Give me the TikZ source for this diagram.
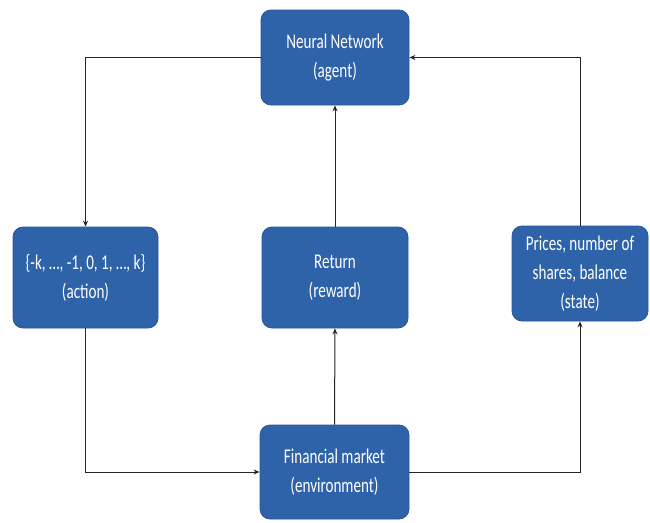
\documentclass[tikz,border=0pt]{standalone}
\usepackage{fontspec}
\usepackage{graphicx}
\setmainfont{Carlito}
\usetikzlibrary{arrows.meta}
\definecolor{boxblue}{RGB}{46,99,170}
\definecolor{boxedge}{RGB}{40,86,150}
\newcommand{\sq}[1]{\scalebox{0.72}[1]{#1}}
\tikzset{
  blk/.style={draw=boxedge, line width=0.8pt, fill=boxblue, rounded corners=10pt,
    text=white, align=center, font=\fontsize{21}{29}\selectfont, inner sep=0pt},
  conn/.style={draw=black!85, line width=1pt, -{Stealth[length=6pt,width=5pt]}}
}
\begin{document}
\begin{tikzpicture}[x=1pt,y=-1pt]
\useasboundingbox (0,0) rectangle (650,522);
\node[blk, minimum width=148pt, minimum height=95pt] (nn) at (335,57.5) {\sq{Neural Network}\\\sq{(agent)}};
\node[blk, minimum width=145pt, minimum height=101pt] (act) at (85.5,277.5) {\sq{\{-k, \dots, -1, 0, 1, \dots, k\}}\\\sq{(action)}};
\node[blk, minimum width=146pt, minimum height=101pt] (ret) at (335,277.5) {\sq{Return}\\\sq{(reward)}};
\node[blk, minimum width=136pt, minimum height=95pt] (st) at (580,273.5) {\sq{Prices, number of}\\\sq{shares, balance}\\\sq{(state)}};
\node[blk, minimum width=149pt, minimum height=94pt] (fin) at (334.5,472) {\sq{Financial market}\\\sq{(environment)}};
\draw[conn] (nn.west) -| (act.north);
\draw[conn] (act.south) |- (fin.west);
\draw[conn] (fin.north) -- (ret.south);
\draw[conn] (ret.north) -- (nn.south);
\draw[conn] (fin.east) -| (st.south);
\draw[conn] (st.north) |- (nn.east);
\end{tikzpicture}
\end{document}
